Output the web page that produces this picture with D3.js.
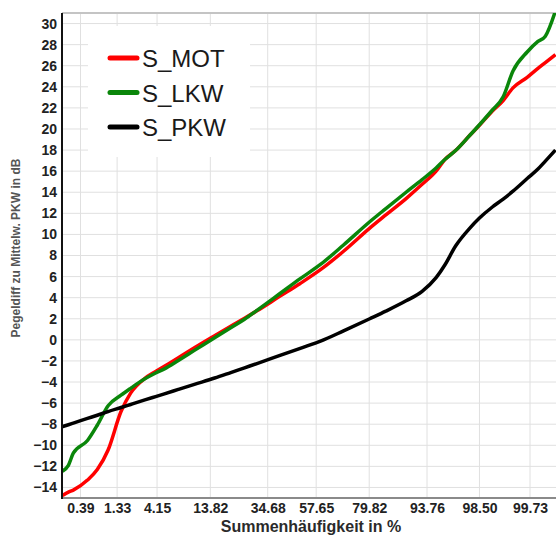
<!DOCTYPE html>
<html>
<head>
<meta charset="utf-8">
<script src="https://cdn.jsdelivr.net/npm/d3@7"></script>
<style>
  body { margin: 0; background: #fff; }
  svg { display: block; font-family: "Liberation Sans", Arial, sans-serif; }
</style>
</head>
<body>
<div id="chart"></div>
<script>
// Summenhäufigkeit in % (x) und Pegeldifferenz in dB (y)
const pct = [0.2, 0.25, 0.3, 0.5, 0.7, 1, 1.5, 2, 3, 4, 5, 7, 10, 15, 20, 25, 30, 40, 50, 60, 70, 80, 85, 90, 93, 95, 96, 97, 98, 98.5, 99, 99.3, 99.5, 99.7, 99.8, 99.85, 99.9];

const sMot = [-14.75, -14.45, -14.25, -13.3, -12.3, -10.45, -6.8, -5.05, -3.65, -3.0, -2.5, -1.7, -0.75, 0.4, 1.3, 2.05, 2.75, 4.1, 5.35, 6.7, 8.4, 10.6, 11.85, 13.4, 14.75, 16.0, 17.1, 17.95, 19.4, 20.35, 21.7, 22.7, 23.9, 24.9, 25.75, 26.3, 27.05];
const sLkw = [-12.45, -11.9, -10.75, -9.55, -8.1, -6.25, -5.25, -4.6, -3.7, -3.15, -2.75, -1.95, -1.0, 0.2, 1.15, 1.95, 2.8, 4.35, 5.8, 7.2, 9.0, 11.2, 12.45, 14.0, 15.2, 16.3, 17.1, 17.95, 19.4, 20.4, 21.8, 23.05, 25.5, 27.3, 28.3, 28.8, 31.2];
const sPkw = [-8.22, -8.05, -7.9, -7.45, -7.15, -6.8, -6.42, -6.13, -5.7, -5.38, -5.12, -4.7, -4.22, -3.62, -3.1, -2.65, -2.25, -1.5, -0.8, -0.1, 0.85, 2.0, 2.72, 3.7, 4.6, 5.9, 7.1, 8.9, 10.6, 11.55, 12.6, 13.35, 14.1, 15.3, 16.2, 16.95, 18.0];

const seriesNames = ['S_MOT', 'S_LKW', 'S_PKW'];
const seriesColors = ['#ff0000', '#0a860a', '#000000'];

const xTickVals = [0.39, 1.33, 4.15, 13.82, 34.68, 57.65, 79.82, 93.76, 98.50, 99.73];
const xTickLabels = ['0.39', '1.33', '4.15', '13.82', '34.68', '57.65', '79.82', '93.76', '98.50', '99.73'];
const yTicks = d3.range(-14, 31, 2);

// inverse Normalverteilung (Wahrscheinlichkeitspapier)
function probit(p) {
  const a = [-3.969683028665376e+01, 2.209460984245205e+02, -2.759285104469687e+02, 1.383577518672690e+02, -3.066479806614716e+01, 2.506628277459239e+00];
  const b = [-5.447609879822406e+01, 1.615858368580409e+02, -1.556989798598866e+02, 6.680131188771972e+01, -1.328068155288572e+01];
  const c = [-7.784894002430293e-03, -3.223964580411365e-01, -2.400758277161838e+00, -2.549732539343734e+00, 4.374664141464968e+00, 2.938163982698783e+00];
  const d = [7.784695709041462e-03, 3.224671290700398e-01, 2.445134137142996e+00, 3.754408661907416e+00];
  const pl = 0.02425;
  let q, r;
  if (p < pl) {
    q = Math.sqrt(-2 * Math.log(p));
    return (((((c[0]*q+c[1])*q+c[2])*q+c[3])*q+c[4])*q+c[5]) / ((((d[0]*q+d[1])*q+d[2])*q+d[3])*q+1);
  } else if (p <= 1 - pl) {
    q = p - 0.5; r = q * q;
    return (((((a[0]*r+a[1])*r+a[2])*r+a[3])*r+a[4])*r+a[5])*q / (((((b[0]*r+b[1])*r+b[2])*r+b[3])*r+b[4])*r+1);
  }
  q = Math.sqrt(-2 * Math.log(1 - p));
  return -(((((c[0]*q+c[1])*q+c[2])*q+c[3])*q+c[4])*q+c[5]) / ((((d[0]*q+d[1])*q+d[2])*q+d[3])*q+1);
}

const width = 556;
const height = 535;
const margin = { top: 13, left: 62 };
const plotW = 498;
const plotH = 485;

const svg = d3.select('#chart').append('svg')
  .attr('width', width)
  .attr('height', height);

const x = d3.scaleLinear()
  .domain([probit(0.00196), probit(0.99917)])
  .range([0, plotW]);
const y = d3.scaleLinear()
  .domain([-15, 31])
  .range([plotH, 0]);

const g = svg.append('g').attr('transform', `translate(${margin.left},${margin.top})`);

svg.append('defs').append('clipPath').attr('id', 'clip')
  .append('rect').attr('width', plotW).attr('height', plotH);

// Gitter
g.append('g').selectAll('line.h')
  .data(yTicks)
  .enter().append('line')
  .attr('x1', 0).attr('x2', plotW)
  .attr('y1', d => y(d)).attr('y2', d => y(d))
  .attr('stroke', '#e0e0e0');
g.append('g').selectAll('line.v')
  .data(xTickVals)
  .enter().append('line')
  .attr('x1', d => x(probit(d / 100))).attr('x2', d => x(probit(d / 100)))
  .attr('y1', 0).attr('y2', plotH)
  .attr('stroke', '#e0e0e0');

// Rahmen oben
g.append('line').attr('x1', 0).attr('x2', plotW).attr('y1', 0).attr('y2', 0)
  .attr('stroke', '#c4c4c4').attr('stroke-width', 2);

// Legende (weißer Kasten überdeckt das Gitter)
const legend = svg.append('g').attr('transform', 'translate(88,26)');
legend.append('rect').attr('width', 162).attr('height', 131).attr('fill', '#fff');
seriesNames.forEach((name, i) => {
  const ly = 32 + i * 34.5;
  legend.append('line')
    .attr('x1', 22).attr('x2', 49).attr('y1', ly).attr('y2', ly)
    .attr('stroke', seriesColors[i]).attr('stroke-width', 5).attr('stroke-linecap', 'round');
  legend.append('text')
    .attr('x', 54).attr('y', ly + 9)
    .attr('font-size', 24).attr('fill', '#1a1a1a')
    .text(name);
});

// Kurven
const line = d3.line()
  .x(d => x(probit(d[0] / 100)))
  .y(d => y(d[1]))
  .curve(d3.curveMonotoneX);

const curves = g.append('g').attr('clip-path', 'url(#clip)');
[sMot, sLkw, sPkw].forEach((vals, i) => {
  curves.append('path')
    .datum(pct.map((p, j) => [p, vals[j]]))
    .attr('fill', 'none')
    .attr('stroke', seriesColors[i])
    .attr('stroke-width', 3.5)
    .attr('stroke-linejoin', 'round')
    .attr('d', line);
});

// Achsen
const yAxis = d3.axisLeft(y).tickValues(yTicks).tickSize(0).tickPadding(5);
const gy = g.append('g').call(yAxis);
gy.select('.domain').remove();
gy.selectAll('text').attr('font-size', 14).attr('font-weight', 'bold').attr('fill', '#222')
  .style('font-family', '"Liberation Sans", Arial, sans-serif');

const xAxis = d3.axisBottom(x)
  .tickValues(xTickVals.map(v => probit(v / 100)))
  .tickFormat((d, i) => xTickLabels[i])
  .tickSize(0).tickPadding(5);
const gx = g.append('g').attr('transform', `translate(0,${plotH})`).call(xAxis);
gx.select('.domain').remove();
gx.selectAll('text').attr('font-size', 14).attr('font-weight', 'bold').attr('fill', '#222')
  .style('font-family', '"Liberation Sans", Arial, sans-serif');

g.append('line').attr('x1', 0).attr('x2', plotW).attr('y1', plotH).attr('y2', plotH)
  .attr('stroke', '#8a8a8a').attr('stroke-width', 2);
g.append('line').attr('x1', 0).attr('x2', 0).attr('y1', 0).attr('y2', plotH + 1)
  .attr('stroke', '#111').attr('stroke-width', 2);

// Achsentitel
svg.append('text')
  .attr('x', margin.left + plotW / 2).attr('y', 531.5)
  .attr('text-anchor', 'middle')
  .attr('font-size', 16).attr('font-weight', 'bold').attr('fill', '#2a2a2a')
  .text('Summenhäufigkeit in %');

svg.append('text')
  .attr('transform', 'translate(20,248) rotate(-90)')
  .attr('text-anchor', 'middle')
  .attr('font-size', 12).attr('font-weight', 'bold').attr('fill', '#555')
  .text('Pegeldiff zu Mittelw. PKW in dB');
</script>
</body>
</html>
